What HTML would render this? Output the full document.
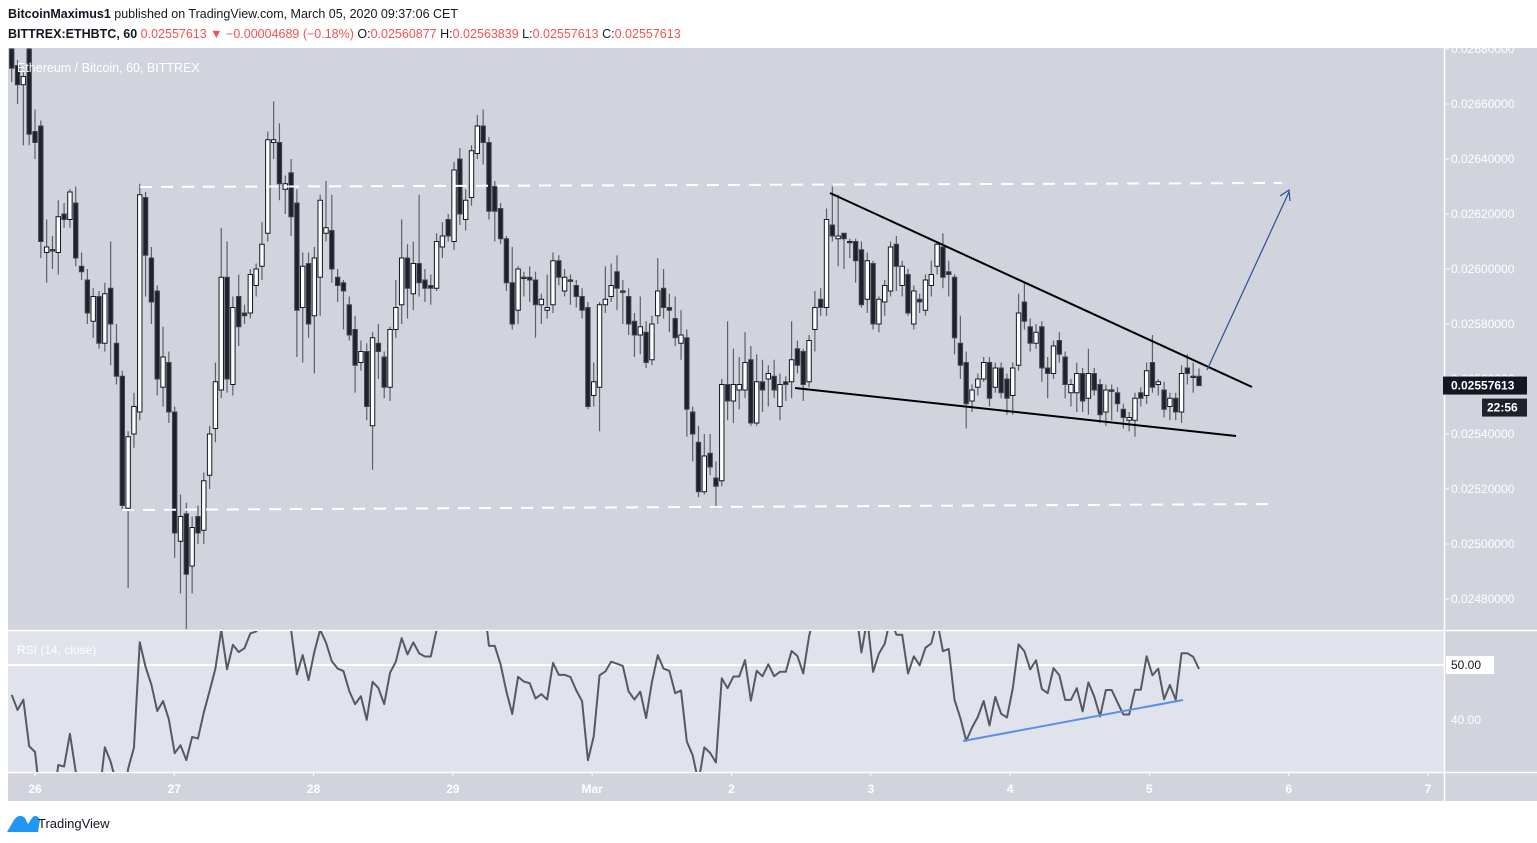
<!DOCTYPE html>
<html><head><meta charset="utf-8"><style>
body{margin:0;background:#fff;font-family:"Liberation Sans",sans-serif;}
svg{display:block}
</style></head><body>
<svg id="c" width="1537" height="843" xmlns="http://www.w3.org/2000/svg">
<rect x="0" y="0" width="1537" height="843" fill="#ffffff"/>
<text x="8" y="18" font-size="12.5" font-weight="bold" fill="#131722">BitcoinMaximus1 <tspan font-weight="normal">published on TradingView.com, March 05, 2020 09:37:06 CET</tspan></text>
<text x="8" y="38" font-size="12.5" fill="#131722"><tspan font-weight="bold">BITTREX:ETHBTC, 60</tspan>  <tspan fill="#ef5350">0.02557613 ▼ −0.00004689 (−0.18%)</tspan> O:<tspan fill="#ef5350">0.02560877</tspan> H:<tspan fill="#ef5350">0.02563839</tspan> L:<tspan fill="#ef5350">0.02557613</tspan> C:<tspan fill="#ef5350">0.02557613</tspan></text>
<rect x="8" y="48" width="1529" height="753" fill="#d1d4dc"/>
<rect x="8" y="631" width="1436" height="141" fill="#e0e3eb"/>
<line x1="8" y1="630.5" x2="1537" y2="630.5" stroke="#fff" stroke-width="1.5"/>
<line x1="8" y1="772.5" x2="1537" y2="772.5" stroke="#fff" stroke-width="1.5"/>
<line x1="1444.5" y1="48" x2="1444.5" y2="801" stroke="#fff" stroke-width="1.5"/>
<defs>
<clipPath id="mainClip"><rect x="8" y="48" width="1436" height="582"/></clipPath>
<clipPath id="rsiClip"><rect x="8" y="631" width="1436" height="141"/></clipPath>
</defs>
<g id="candles" clip-path="url(#mainClip)"></g>
<g id="annot" clip-path="url(#mainClip)">
<text x="17" y="72" font-size="12.5" fill="#ffffff">Ethereum / Bitcoin, 60, BITTREX</text>
<line x1="140" y1="187" x2="1282" y2="183" stroke="#ffffff" stroke-width="2" stroke-dasharray="12,9"/>
<line x1="122" y1="510" x2="1270" y2="504" stroke="#ffffff" stroke-width="2" stroke-dasharray="12,9"/>
<line x1="830" y1="193" x2="1252" y2="387" stroke="#000" stroke-width="2"/>
<line x1="795" y1="388" x2="1236" y2="436" stroke="#000" stroke-width="2"/>
<line x1="1207" y1="370" x2="1289" y2="192" stroke="#2a4f9a" stroke-width="1.2"/>
<polyline points="1280,196 1289,190 1290,201" fill="none" stroke="#2a4f9a" stroke-width="1.2"/>
</g>
<g id="rsi" clip-path="url(#rsiClip)">
<line x1="8" y1="665" x2="1444" y2="665" stroke="#fff" stroke-width="2"/>
<text x="17" y="654" font-size="12" fill="#ffffff">RSI (14, close)</text>
</g>
<line x1="963" y1="741" x2="1183" y2="700" stroke="#5b8fe8" stroke-width="2"/>
<g id="paxis"></g>
<g id="taxis"></g>
<g>
<path d="M7,832 L14,820 Q19,813 25,818 L28,824 L32,818 Q36,813 40,820 L38,832 Z" fill="#2196f3"/>
<text x="38" y="828" font-size="13" fill="#131722">TradingView</text>
</g>
</svg>
<script>
const opens=[2680,2674,2667,2680,2650,2652,2606,2607,2606,2620,
2618,2624,2601,2596,2581,2590,2573,2593,2573,2561,
2513,2540,2548,2626,2604,2592,2557,2566,2548,2501,
2511,2492,2510,2505,2525,2542,2556,2597,2558,2590,
2584,2584,2594,2601,2613,2646,2646,2629,2635,2624,
2586,2602,2583,2597,2613,2614,2597,2595,2587,2578,
2566,2570,2543,2573,2568,2557,2578,2587,2604,2591,
2602,2596,2594,2593,2608,2618,2610,2640,2618,2626,
2642,2652,2646,2630,2622,2611,2595,2585,2597,2597,
2596,2587,2585,2587,2603,2592,2596,2594,2590,2586,
2554,2557,2587,2590,2599,2592,2590,2581,2576,2577,
2567,2583,2593,2586,2582,2573,2575,2548,2537,2519,
2533,2524,2523,2558,2552,2556,2556,2567,2544,2559,
2560,2561,2550,2559,2559,2571,2570,2559,2578,2589,
2586,2616,2611,2613,2610,2610,2607,2589,2602,2580,
2588,2592,2609,2594,2598,2580,2589,2585,2594,
2601,2608,2599,2597,2573,2566,2552,2557,2560,2566,
2557,2564,2560,2554,2565,2588,2579,2573,2579,2564,
2562,2574,2568,2555,2555,2562,2553,2562,2558,2548,
2556,2555,2549,2545,2545,2555,2554,2566,2558,2556,
2550,2553,2548,2564,2561,2561];
const closes=[2673,2667,2670,2649,2646,2610,2608,2607,2619,2618,
2628,2604,2599,2584,2590,2573,2591,2580,2561,2514,
2539,2550,2627,2605,2588,2560,2568,2548,2504,2510,
2489,2506,2504,2523,2540,2559,2597,2560,2586,2579,
2583,2598,2600,2609,2647,2647,2631,2631,2619,2585,
2601,2580,2604,2625,2615,2600,2594,2592,2576,2565,
2570,2550,2575,2570,2557,2578,2586,2604,2593,2602,
2595,2593,2593,2610,2612,2612,2636,2620,2625,2643,
2652,2646,2621,2621,2611,2595,2580,2600,2597,2596,
2587,2589,2586,2603,2597,2597,2596,2590,2585,2550,
2559,2587,2589,2594,2593,2592,2580,2576,2579,2566,
2580,2592,2586,2585,2575,2576,2549,2540,2519,2532,
2528,2521,2558,2552,2558,2558,2566,2544,2559,2556,
2562,2556,2558,2558,2567,2565,2558,2574,2586,2586,
2618,2612,2612,2611,2610,2603,2587,2603,2580,2589,
2594,2608,2601,2601,2584,2592,2588,2596,2598,
2609,2597,2598,2575,2565,2551,2556,2560,2566,2553,
2564,2555,2553,2564,2584,2581,2573,2577,2564,2562,
2572,2569,2558,2558,2562,2552,2562,2556,2547,2556,
2556,2551,2546,2546,2553,2553,2563,2557,2559,2549,
2553,2548,2562,2562,2561,2557.613];
const highs=[2684,2676,2672,2682,2658,2654,2618,2612,2625,2624,
2629,2630,2606,2600,2593,2592,2595,2610,2580,2563,
2541,2555,2631,2628,2608,2594,2579,2570,2550,2518,
2515,2510,2514,2526,2543,2566,2615,2610,2590,2598,
2587,2600,2602,2617,2650,2661,2653,2634,2640,2629,
2606,2606,2608,2627,2632,2627,2600,2596,2590,2583,
2574,2573,2577,2580,2570,2579,2596,2618,2609,2610,
2627,2600,2598,2613,2617,2620,2639,2644,2629,2645,
2656,2658,2648,2632,2624,2612,2608,2601,2599,2601,
2599,2591,2598,2606,2605,2600,2598,2596,2593,2588,
2566,2588,2601,2602,2605,2596,2593,2584,2590,2581,
2583,2604,2600,2591,2590,2585,2578,2550,2543,2540,
2540,2530,2560,2581,2571,2568,2577,2572,2569,2567,
2565,2567,2562,2561,2581,2574,2571,2576,2592,2593,
2622,2630,2627,2613,2611,2611,2610,2606,2603,2590,
2596,2610,2612,2603,2600,2594,2591,2598,2603,
2610,2613,2603,2598,2583,2570,2558,2562,2568,2568,
2566,2566,2562,2566,2591,2595,2582,2580,2581,2568,
2574,2577,2570,2560,2566,2564,2571,2564,2560,2558,
2558,2557,2551,2548,2555,2557,2566,2576,2560,2559,
2555,2555,2565,2569,2566,2563.839];
const lows=[2668,2660,2645,2645,2640,2604,2595,2600,2598,2615,
2615,2601,2596,2580,2575,2571,2570,2565,2558,2512,
2484,2535,2545,2590,2580,2554,2550,2544,2495,2482,
2469,2482,2500,2500,2520,2537,2553,2555,2554,2572,
2580,2582,2590,2596,2610,2640,2625,2620,2612,2568,
2566,2575,2562,2583,2610,2595,2588,2578,2574,2555,
2563,2545,2527,2560,2553,2552,2575,2580,2582,2585,
2590,2588,2587,2592,2604,2610,2607,2616,2614,2623,
2640,2638,2618,2610,2609,2592,2578,2580,2590,2588,
2575,2580,2582,2584,2594,2590,2587,2586,2582,2549,
2550,2541,2584,2588,2585,2580,2576,2568,2569,2564,
2565,2580,2582,2577,2572,2567,2539,2530,2517,2518,
2525,2513,2521,2545,2544,2549,2553,2543,2543,2548,
2550,2553,2545,2552,2553,2562,2552,2557,2570,2583,
2583,2610,2601,2600,2604,2595,2586,2584,2578,2577,
2583,2590,2592,2590,2583,2578,2584,2583,2590,
2598,2593,2590,2569,2560,2542,2548,2554,2559,2550,
2555,2553,2547,2547,2563,2578,2570,2571,2559,2553,
2560,2566,2553,2550,2548,2548,2547,2554,2544,2543,
2545,2548,2542,2541,2539,2550,2551,2555,2554,2546,
2545,2545,2544,2558,2555,2557.613];
const priceTicks=[2680,2660,2640,2620,2600,2580,2560,2540,2520,2500,2480];
const rsiTicks=[50,40];
const dayLabels=["26","27","28","29","Mar","2","3","4","5","6","7"];

const NS="http://www.w3.org/2000/svg";
function xAt(k){return 35+(k-4)*5.82;}
function yP(p){return 104+(2660-p)*2.75;}
function yR(r){return 665+(50-r)*5.5;}
function mk(tag,attrs,parent){const e=document.createElementNS(NS,tag);for(const a in attrs)e.setAttribute(a,attrs[a]);parent.appendChild(e);return e;}

const cg=document.getElementById('candles');
for(let k=0;k<closes.length;k++){
  const x=xAt(k),o=opens[k],c=closes[k],up=c>=o;
  const w=mk('line',{x1:x,x2:x,y1:yP(highs[k]),y2:yP(lows[k]),stroke:'#5d606b','stroke-width':1.2},cg);
  
  
  const top=yP(Math.max(o,c)),bot=yP(Math.min(o,c));
  const b=mk('rect',{x:x-2.2,y:top,width:4.4,height:Math.max(1.2,bot-top),fill:up?'#ffffff':'#1e222d',stroke:up?'#131722':'#434651','stroke-width':1},cg);
  
  
}

let ag=3.4,al=4.0;const rsiVals=[];
for(let k=0;k<closes.length;k++){
  const d=k===0?closes[0]-2676:closes[k]-closes[k-1];
  ag=(ag*13+Math.max(d,0))/14;al=(al*13+Math.max(-d,0))/14;
  rsiVals.push(100-100/(1+ag/al));
}
const rg=document.getElementById('rsi');
const rl=mk('polyline',{points:rsiVals.map((r,k)=>xAt(k)+','+yR(r)).join(' '),fill:'none',stroke:'#555a62','stroke-width':2,'stroke-linejoin':'round'},rg);



const pa=document.getElementById('paxis');
priceTicks.forEach(p=>{
  const y=yP(p);
  const t=mk('line',{x1:1444,x2:1449,y1:y,y2:y,stroke:'#fff'},pa);
  
  
  const l=mk('text',{x:1451,y:y+4,'font-size':12,fill:'#ffffff'},pa);
  
  
  l.textContent=(p/100000).toFixed(8);
});
rsiTicks.forEach(r=>{
  const y=yR(r);
  if(r===50){const bx=mk('rect',{x:1446,y:y-9,width:48,height:18,fill:'#ffffff'},pa);
    
    }
  const l=mk('text',{x:1451,y:y+4,'font-size':12,fill:r===50?'#131722':'#ffffff'},pa);
  
  
  l.textContent=r.toFixed(2);
});
const last=closes[closes.length-1],ly=yP(last);
const lb=mk('rect',{x:1443,y:ly-9,width:84,height:18,fill:'#131722'},pa);


const lt=mk('text',{x:1451,y:ly+4,'font-size':12,fill:'#ffffff','font-weight':'bold'},pa);


lt.textContent=(last/100000).toFixed(8);
const cb=mk('rect',{x:1482,y:ly+13,width:45,height:18,fill:'#1e222d'},pa);


const ct=mk('text',{x:1487,y:ly+26,'font-size':12,fill:'#ffffff','font-weight':'bold'},pa);


ct.textContent='22:56';

const ta=document.getElementById('taxis');
dayLabels.forEach((d,i)=>{
  const x=35+i*139.3;
  const t=mk('line',{x1:x,x2:x,y1:772,y2:776,stroke:'#fff'},ta);
  
  
  const l=mk('text',{x:x,y:793,'font-size':12,'font-weight':'bold',fill:'#ffffff','text-anchor':'middle'},ta);
  
  
  l.textContent=d;
});
</script>
</body></html>
